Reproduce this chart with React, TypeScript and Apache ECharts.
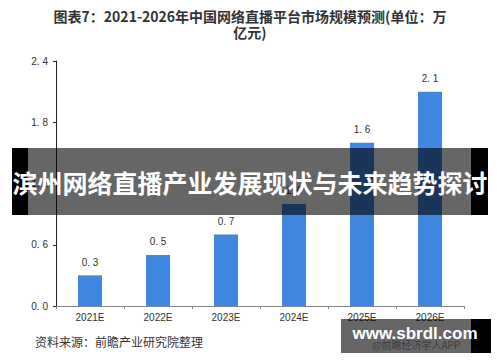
import React, { useEffect, useRef } from "react";
import * as echarts from "echarts";

const categories = ["2021E", "2022E", "2023E", "2024E", "2025E", "2026E"];
const values = [0.3, 0.5, 0.7, 1.0, 1.6, 2.1];
const titleText = "图表7：2021-2026年中国网络直播平台市场规模预测(单位：万\n亿元)";
const sourceText = "资料来源：前瞻产业研究院整理";
const bannerText = "滨州网络直播产业发展现状与未来趋势探讨";
const siteText = "www.sbrdl.com";
const appText = "@前瞻经济学人APP";

const fmt = (v: number) => v.toFixed(1).replace(".", ". ");
const FONT = "'Noto Sans CJK SC', 'Noto Sans', sans-serif";
const NUMFONT = "'Liberation Sans', Arial, sans-serif";

export default function App() {
  const ref = useRef<HTMLDivElement>(null);
  useEffect(() => {
    if (!ref.current) return;
    const chart = echarts.init(ref.current, undefined, { renderer: "svg" });
    chart.setOption({
      animation: false,
      backgroundColor: "#ffffff",
      textStyle: { fontFamily: FONT },
      grid: { left: 56, right: 36, top: 61, bottom: 56 },
      xAxis: {
        type: "category",
        data: categories,
        axisLine: { lineStyle: { color: "#888", width: 1 } },
        axisTick: { show: true, alignWithLabel: false, length: 3, lineStyle: { color: "#888" } },
        axisLabel: { color: "#333", fontSize: 10, margin: 6, fontFamily: NUMFONT },
      },
      yAxis: {
        type: "value",
        min: 0,
        max: 2.4,
        interval: 0.6,
        splitLine: { show: false },
        axisLine: { show: true, lineStyle: { color: "#222", width: 1 } },
        axisTick: { show: true, length: 3, lineStyle: { color: "#222" } },
        axisLabel: { color: "#333", fontSize: 10, margin: 8, formatter: (v: number) => fmt(v), fontFamily: NUMFONT },
      },
      series: [
        {
          type: "bar",
          data: values,
          barWidth: 24,
          itemStyle: { color: "#3f87e0" },
          label: {
            show: true,
            position: "top",
            distance: 8,
            color: "#333",
            fontSize: 10,
            fontFamily: NUMFONT,
            formatter: (p: any) => fmt(p.value),
          },
        },
      ],
      graphic: [
        {
          type: "text",
          x: 250,
          y: 8,
          z: 100,
          style: {
            text: titleText,
            fill: "#333",
            font: `bold 14px ${FONT}`,
            textAlign: "center",
            lineHeight: 16,
          },
        },
        {
          type: "text",
          x: 35,
          y: 335,
          z: 100,
          style: { text: sourceText, fill: "#333", font: `12px ${FONT}` },
        },
        { type: "rect", z: 100, shape: { x: 28, y: 148, width: 443, height: 67 }, style: { fill: "rgba(0,0,0,0.6)" } },
        { type: "rect", z: 100, shape: { x: 12, y: 148, width: 16, height: 67 }, style: { fill: "#000" } },
        { type: "rect", z: 100, shape: { x: 471, y: 148, width: 17, height: 67 }, style: { fill: "#000" } },
        {
          type: "text",
          x: 250,
          y: 182,
          z: 101,
          style: {
            text: bannerText,
            fill: "#fff",
            font: `bold 25px ${FONT}`,
            textAlign: "center",
            textVerticalAlign: "middle",
          },
        },
        { type: "rect", z: 100, shape: { x: 341, y: 319, width: 130, height: 34 }, style: { fill: "rgba(0,0,0,0.6)" } },
        { type: "rect", z: 100, shape: { x: 471, y: 319, width: 20, height: 34 }, style: { fill: "#000" } },
        {
          type: "text",
          x: 372,
          y: 344,
          z: 101,
          style: { text: appText, fill: "rgba(30,30,30,0.6)", font: `10px ${FONT}`, textVerticalAlign: "middle" },
        },
        {
          type: "text",
          x: 415,
          y: 333,
          z: 102,
          style: {
            text: siteText,
            fill: "#fff",
            font: `bold 17px ${NUMFONT}`,
            textAlign: "center",
            textVerticalAlign: "middle",
          },
        },
      ],
    });
    return () => chart.dispose();
  }, []);
  return <div ref={ref} style={{ width: 500, height: 362, position: "absolute", left: 0, top: 0 }} />;
}
